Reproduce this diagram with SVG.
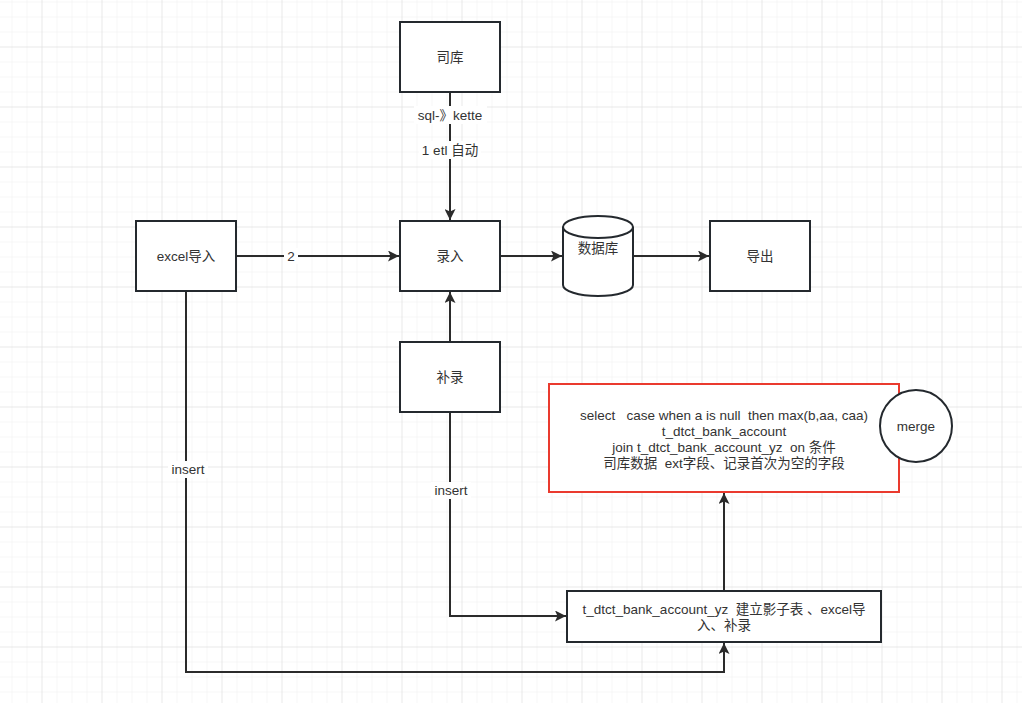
<svg xmlns="http://www.w3.org/2000/svg" width="1022" height="703" viewBox="0 0 1022 703">
<defs>
<pattern id="minor" x="11.5" y="1.5" width="15" height="15" patternUnits="userSpaceOnUse">
<path d="M0 0H15M0 0V15" fill="none" stroke="#efefef" stroke-width="1"/>
</pattern>
<pattern id="major" x="41.5" y="46.5" width="60" height="60" patternUnits="userSpaceOnUse">
<path d="M0 0H60M0 0V60" fill="none" stroke="#dedede" stroke-width="1"/>
</pattern>
<marker id="arr" viewBox="0 0 11 11" refX="11" refY="5.5" markerWidth="11" markerHeight="11" markerUnits="userSpaceOnUse" orient="auto">
<path d="M0 0L11 5.5L0 11L2.5 5.5Z" fill="#2b2b2b"/>
</marker>
<style>
.box{fill:#fff;stroke:#24292e;stroke-width:2}
.red{fill:#fff;stroke:#ea3a2e;stroke-width:2}
.t{font-family:"Liberation Sans","Noto Sans CJK SC",sans-serif;font-size:13.5px;fill:#333;text-anchor:middle;dominant-baseline:central;white-space:pre}
.c{fill:none;stroke:#2b2b2b;stroke-width:2;marker-end:url(#arr)}
.lb{fill:#fff}
</style>
</defs>
<rect width="1022" height="703" fill="#fff"/>
<rect width="1022" height="703" fill="url(#minor)"/>
<rect width="1022" height="703" fill="url(#major)"/>

<g id="connectors">
<path class="c" d="M450 92V220"/>
<path class="c" d="M236 256H399"/>
<path class="c" d="M500 256H562"/>
<path class="c" d="M633 256H709"/>
<path class="c" d="M450 342V292"/>
<path class="c" d="M186 291V672H724V643"/>
<path class="c" d="M450 412V616H566"/>
<path class="c" d="M724 591V493"/>
<rect class="lb" x="414" y="106" width="73" height="18"/>
<text class="t" x="450" y="115" xml:space="preserve">sql-》kette</text>
<rect class="lb" x="419" y="141" width="62" height="18"/>
<text class="t" x="450" y="150" xml:space="preserve">1 etl 自动</text>
<rect class="lb" x="284" y="248" width="14" height="16"/>
<text class="t" x="291" y="256">2</text>
<rect class="lb" x="168" y="461" width="40" height="17"/>
<text class="t" x="188" y="469">insert</text>
<rect class="lb" x="431" y="482" width="40" height="17"/>
<text class="t" x="451" y="490">insert</text>
</g>

<g id="siku">
<rect class="box" x="400" y="22" width="100" height="70"/>
<text class="t" x="450" y="57">司库</text>
</g>
<g id="luru">
<rect class="box" x="400" y="221" width="100" height="70"/>
<text class="t" x="450" y="256">录入</text>
</g>
<g id="excel">
<rect class="box" x="136" y="221" width="100" height="70"/>
<text class="t" x="186" y="256">excel导入</text>
</g>
<g id="db">
<path class="box" d="M563 227V285A35 11 0 0 0 633 285V227A35 11 0 0 0 563 227A35 11 0 0 0 633 227"/>
<text class="t" x="598" y="248">数据库</text>
</g>
<g id="daochu">
<rect class="box" x="710" y="221" width="100" height="70"/>
<text class="t" x="760" y="256">导出</text>
</g>
<g id="bulu">
<rect class="box" x="400" y="342" width="100" height="70"/>
<text class="t" x="450" y="377">补录</text>
</g>
<g id="sql">
<rect class="red" x="549" y="384" width="350" height="108"/>
<text class="t" x="724" y="415" xml:space="preserve">select   case when a is null  then max(b,aa, caa)</text>
<text class="t" x="724" y="431">t_dtct_bank_account</text>
<text class="t" x="724" y="447" xml:space="preserve">join t_dtct_bank_account_yz  on 条件</text>
<text class="t" x="724" y="463" xml:space="preserve">司库数据  ext字段、记录首次为空的字段</text>
</g>
<g id="merge">
<circle class="box" cx="916" cy="426" r="36"/>
<text class="t" x="916" y="426">merge</text>
</g>
<g id="yz">
<rect class="box" x="567" y="591" width="314" height="51"/>
<text class="t" x="724" y="609" xml:space="preserve">t_dtct_bank_account_yz  建立影子表 、excel导</text>
<text class="t" x="724" y="625">入、补录</text>
</g>
</svg>
